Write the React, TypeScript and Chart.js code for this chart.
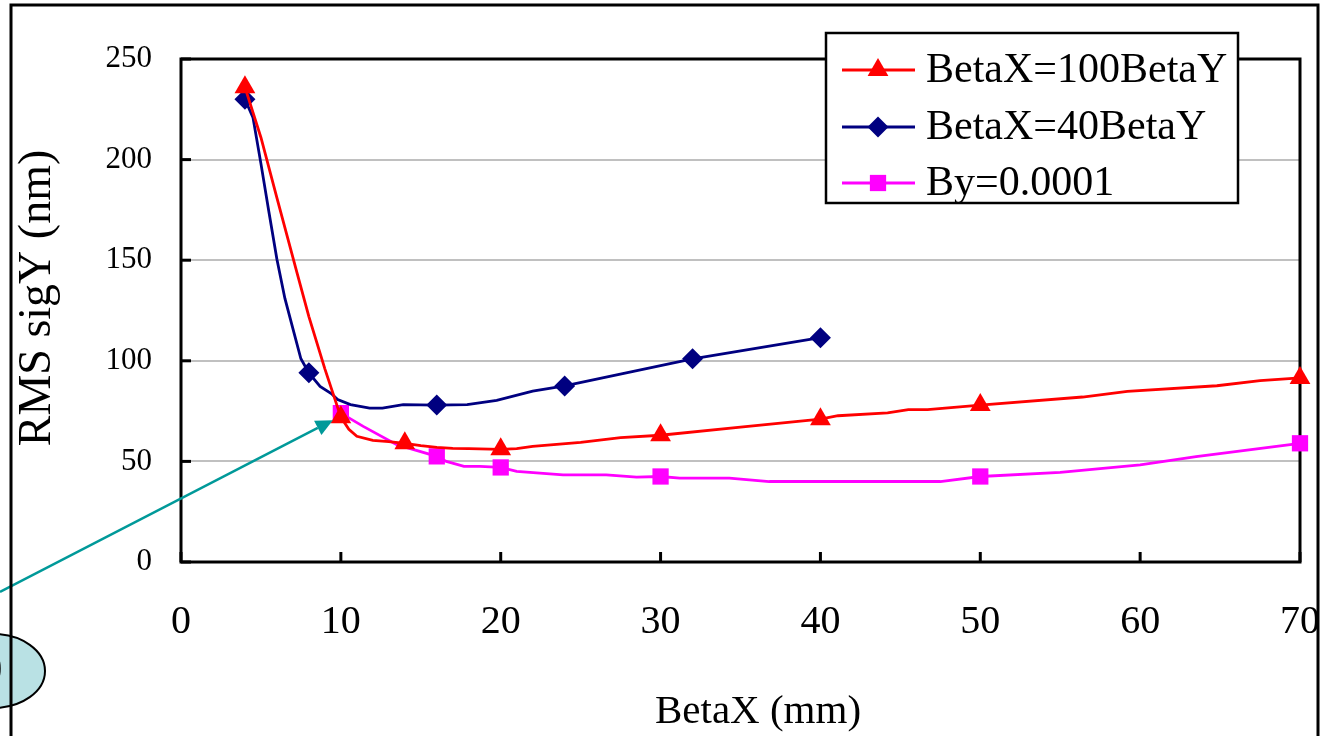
import React, { useEffect, useRef } from "react";
import { Chart, registerables } from "chart.js";

Chart.register(...registerables);

// ---- data ----
const xTicks = [0, 10, 20, 30, 40, 50, 60, 70];
const yTicks = [0, 50, 100, 150, 200, 250];

const xTitle = "BetaX (mm)";
const yTitle = "RMS sigY (nm)";

const seriesLabels = ["BetaX=100BetaY", "BetaX=40BetaY", "By=0.0001"];

// BetaX=100BetaY
const redX = [4, 5, 6, 7.25, 8, 9, 10, 10.5, 11, 12, 13, 14, 15, 16, 17, 18, 20, 21, 22, 25, 27.5, 30, 35, 40, 41.1, 44.2, 45.5, 46.7, 50, 56.4, 59.2, 64.8, 67.5, 70];
const redY = [236, 211, 181, 144, 122, 96, 72, 66, 62.5, 60.5, 59.8, 59, 57.8, 57, 56.5, 56.3, 56, 56.3, 57.5, 59.5, 61.8, 63, 67, 71, 72.7, 74.1, 75.7, 75.7, 78, 82, 84.8, 87.6, 90.1, 91.5];
const redMarkX = [4, 10, 14, 20, 30, 40, 50, 70];

// BetaX=40BetaY
const blueX = [4, 4.5, 5, 5.5, 6, 6.5, 7, 7.5, 8, 8.7, 9.4, 9.8, 10.6, 11.8, 12.6, 13.9, 16, 17.9, 19.75, 22, 24, 32, 40];
const blueY = [230, 221, 198, 174, 150.5, 131, 116, 101, 94, 87.3, 83.7, 80.7, 78.2, 76.5, 76.5, 78.2, 78, 78.2, 80.3, 84.9, 87.5, 101, 111.5];
const blueMarkX = [4, 8, 16, 24, 32, 40];

// By=0.0001
const magX = [10, 11.4, 13.5, 16, 16.6, 17.7, 18.7, 20, 21, 23.9, 26.6, 28.5, 30, 31.2, 34.3, 36.8, 47.5, 50, 55, 60, 63.5, 70];
const magY = [74, 67.4, 58.3, 52.5, 50, 47.5, 47.5, 47, 45, 43.3, 43.3, 42.2, 42.5, 41.7, 41.7, 40, 40, 42.5, 44.5, 48.3, 52.4, 59];
const magMarkX = [10, 16, 20, 30, 50, 70];

// annotation target (data coords)
const arrowTarget = { x: 9.5, y: 70.5 };

const FONT = "'Liberation Serif', 'DejaVu Serif', serif";

function mkData(xs: number[], ys: number[]) {
  return xs.map((x, i) => ({ x, y: ys[i] }));
}
function radii(xs: number[], marks: number[], r: number) {
  return xs.map((x) => (marks.includes(x) ? r : 0));
}

function drawMarker(ctx: CanvasRenderingContext2D, style: string, x: number, y: number, r: number, color: string) {
  ctx.fillStyle = color;
  ctx.beginPath();
  if (style === "triangle") {
    for (let k = 0; k < 3; k++) {
      const a = (k * 2 * Math.PI) / 3;
      const px = x + Math.sin(a) * r;
      const py = y - Math.cos(a) * r;
      if (k === 0) ctx.moveTo(px, py);
      else ctx.lineTo(px, py);
    }
  } else if (style === "rectRot") {
    ctx.moveTo(x - r, y);
    ctx.lineTo(x, y - r);
    ctx.lineTo(x + r, y);
    ctx.lineTo(x, y + r);
  } else {
    const s = Math.SQRT1_2 * r;
    ctx.rect(x - s, y - s, 2 * s, 2 * s);
  }
  ctx.closePath();
  ctx.fill();
}

const decorPlugin = {
  id: "decor",
  beforeDatasetsDraw(chart: any) {
    const { ctx, chartArea: a, scales } = chart;
    ctx.save();
    ctx.strokeStyle = "#000";
    ctx.lineWidth = 3;
    for (const v of yTicks) {
      const y = scales.y.getPixelForValue(v);
      ctx.beginPath();
      ctx.moveTo(a.left, y);
      ctx.lineTo(a.left + 10, y);
      ctx.stroke();
    }
    for (const v of xTicks) {
      const x = scales.x.getPixelForValue(v);
      ctx.beginPath();
      ctx.moveTo(x, a.bottom);
      ctx.lineTo(x, a.bottom - 10);
      ctx.stroke();
    }
    ctx.strokeRect(a.left, a.top, a.right - a.left, a.bottom - a.top);
    ctx.restore();
  },
  afterDraw(chart: any) {
    const { ctx, scales } = chart;
    ctx.save();
    // axis titles
    ctx.fillStyle = "#000";
    ctx.textAlign = "center";
    ctx.textBaseline = "middle";
    ctx.font = `41px ${FONT}`;
    ctx.fillText(xTitle, 758, 712);
    ctx.save();
    ctx.translate(38, 298);
    ctx.rotate(-Math.PI / 2);
    ctx.font = `46px ${FONT}`;
    ctx.fillText(yTitle, 0, 0);
    ctx.restore();

    // legend
    const lx = 826, ly = 33, lw = 412, lh = 170;
    ctx.fillStyle = "#fff";
    ctx.fillRect(lx, ly, lw, lh);
    ctx.strokeStyle = "#000";
    ctx.lineWidth = 2.5;
    ctx.strokeRect(lx, ly, lw, lh);
    const rows = [70, 127, 183];
    chart.data.datasets.forEach((ds: any, i: number) => {
      const y = rows[i];
      ctx.strokeStyle = ds.borderColor;
      ctx.lineWidth = 2.8;
      ctx.beginPath();
      ctx.moveTo(842, y);
      ctx.lineTo(915, y);
      ctx.stroke();
      drawMarker(ctx, ds.pointStyle, 878, y, ds.legendRadius, ds.borderColor);
      ctx.fillStyle = "#000";
      ctx.textAlign = "left";
      ctx.textBaseline = "middle";
      ctx.font = `42px ${FONT}`;
      ctx.fillText(ds.label, 926, y + 1);
    });

    // ellipse callout
    ctx.beginPath();
    ctx.ellipse(-7, 671, 52, 37, 0, 0, Math.PI * 2);
    ctx.fillStyle = "#b9e1e4";
    ctx.fill();
    ctx.strokeStyle = "#000";
    ctx.lineWidth = 2;
    ctx.stroke();
    ctx.fillStyle = "#000";
    ctx.textAlign = "center";
    ctx.font = `46px ${FONT}`;
    ctx.fillText("0", -9, 672);

    // arrow
    const tx = scales.x.getPixelForValue(arrowTarget.x);
    const ty = scales.y.getPixelForValue(arrowTarget.y);
    const sx = 0, sy = 592;
    const ang = Math.atan2(ty - sy, tx - sx);
    const hl = 17, hw = 8;
    const bx = tx - Math.cos(ang) * hl, by = ty - Math.sin(ang) * hl;
    ctx.strokeStyle = "#009999";
    ctx.fillStyle = "#009999";
    ctx.lineWidth = 2.5;
    ctx.beginPath();
    ctx.moveTo(sx, sy);
    ctx.lineTo(bx, by);
    ctx.stroke();
    ctx.beginPath();
    ctx.moveTo(tx, ty);
    ctx.lineTo(bx + Math.sin(ang) * hw, by - Math.cos(ang) * hw);
    ctx.lineTo(bx - Math.sin(ang) * hw, by + Math.cos(ang) * hw);
    ctx.closePath();
    ctx.fill();

    // outer chart border
    ctx.strokeStyle = "#000";
    ctx.lineWidth = 3;
    ctx.beginPath();
    ctx.moveTo(11, 736);
    ctx.lineTo(11, 5);
    ctx.lineTo(1318, 5);
    ctx.lineTo(1318, 736);
    ctx.stroke();
    ctx.restore();
  },
};

export default function App() {
  const ref = useRef<HTMLCanvasElement | null>(null);
  useEffect(() => {
    if (!ref.current) return;
    const chart = new Chart(ref.current, {
      type: "line",
      data: {
        datasets: [
          {
            label: seriesLabels[0],
            data: mkData(redX, redY),
            borderColor: "#ff0000",
            backgroundColor: "#ff0000",
            borderWidth: 2.8,
            pointStyle: "triangle",
            pointRadius: radii(redX, redMarkX, 12),
            pointBorderWidth: 0,
            legendRadius: 12,
            tension: 0,
            clip: false,
          } as any,
          {
            label: seriesLabels[1],
            data: mkData(blueX, blueY),
            borderColor: "#000080",
            backgroundColor: "#000080",
            borderWidth: 2.8,
            pointStyle: "rectRot",
            pointRadius: radii(blueX, blueMarkX, 10.5),
            pointBorderWidth: 0,
            legendRadius: 10.5,
            tension: 0,
            clip: false,
          } as any,
          {
            label: seriesLabels[2],
            data: mkData(magX, magY),
            borderColor: "#ff00ff",
            backgroundColor: "#ff00ff",
            borderWidth: 2.8,
            pointStyle: "rect",
            pointRadius: radii(magX, magMarkX, 11.5),
            pointBorderWidth: 0,
            legendRadius: 11.5,
            tension: 0,
            clip: false,
          } as any,
        ],
      },
      options: {
        animation: false,
        responsive: false,
        events: [],
        layout: { padding: { top: 59, right: 23, left: 0, bottom: 0 } },
        plugins: { legend: { display: false }, title: { display: false }, tooltip: { enabled: false } },
        scales: {
          x: {
            type: "linear",
            min: 0,
            max: 70,
            afterBuildTicks: (s: any) => {
              s.ticks = xTicks.map((v) => ({ value: v }));
            },
            afterFit: (s: any) => {
              s.height = 174;
              s.paddingLeft = 0;
              s.paddingRight = 0;
            },
            grid: { display: false, drawTicks: false },
            border: { display: false },
            ticks: { color: "#000", padding: 36, font: { family: FONT, size: 40 }, maxRotation: 0, autoSkip: false },
          },
          y: {
            type: "linear",
            min: 0,
            max: 250,
            afterBuildTicks: (s: any) => {
              s.ticks = yTicks.map((v) => ({ value: v }));
            },
            afterFit: (s: any) => {
              s.width = 181;
              s.paddingTop = 0;
              s.paddingBottom = 0;
            },
            grid: { color: "#c0c0c0", lineWidth: 2, drawTicks: false },
            border: { display: false },
            ticks: { color: "#000", padding: 29, font: { family: FONT, size: 31 } },
          },
        },
      } as any,
      plugins: [decorPlugin],
    });
    return () => chart.destroy();
  }, []);
  return (
    <div style={{ position: "absolute", left: 0, top: 0, width: 1323, height: 736, background: "#fff" }}>
      <canvas ref={ref} width={1323} height={736} style={{ display: "block" }} />
    </div>
  );
}
